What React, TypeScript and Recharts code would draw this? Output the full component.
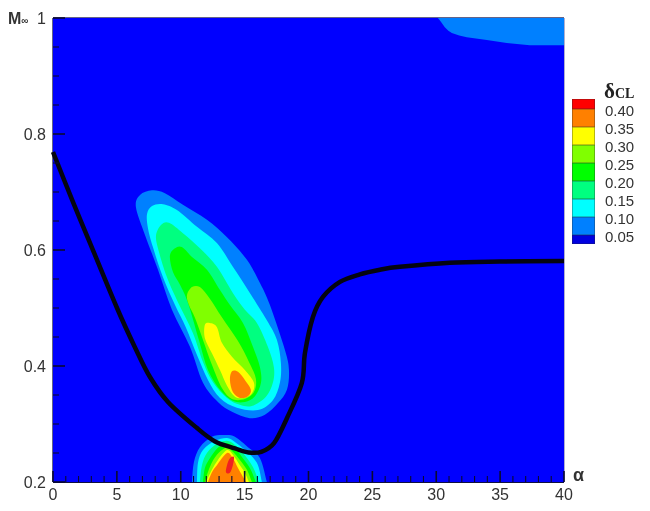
import React from 'react';
import { ComposedChart, Scatter, XAxis, YAxis } from 'recharts';

type P = [number, number];

const xTicks = [0,1,2,3,4,5,6,7,8,9,10,11,12,13,14,15,16,17,18,19,20,21,22,23,24,25,26,27,28,29,30,31,32,33,34,35,36,37,38,39,40];
const xLabelled = [0,5,10,15,20,25,30,35,40];
const yTicks = [0.2,0.25,0.3,0.35,0.4,0.45,0.5,0.55,0.6,0.65,0.7,0.75,0.8,0.85,0.9,0.95,1];
const yLabelled = [0.2,0.4,0.6,0.8,1];

const legendLabels = ['0.40','0.35','0.30','0.25','0.20','0.15','0.10','0.05'];
const legendColors = ['#ff0000','#ff8000','#ffff00','#80ff00','#00ff00','#00ff80','#00ffff','#0080ff','#0000e0'];

const C05 = '#0000ff', C10 = '#0080ff', C15 = '#00ffff', C20 = '#00ff80', C25 = '#00ff00', C30 = '#80ff00', C35 = '#ffff00', C40 = '#ff8000', C45 = '#f02020';

const field: P[] = [[0,0.2],[40,0.2],[40,1],[0,1]];
const cornerTop10: P[] = [[30.13,1],[30.35,.994],[30.67,.984],[30.95,.978],[31.22,.974],[31.8,.970],[32.39,.967],[33.96,.962],[35.52,.957],[37.32,.953],[40,.953],[40,1]];

const upper10: P[] = [[6.49,.674],[6.81,.695],[7.75,.703],[8.76,.698],[10.17,.678],[12.05,.652],[13.62,.622],[15.18,.583],[16.2,.543],[16.98,.505],[18.15,.428],[18.47,.393],[18.31,.359],[17.61,.336],[16.59,.316],[15.41,.31],[14.01,.321],[12.91,.338],[11.74,.371],[10.72,.433],[9.31,.497],[8.22,.566],[7.2,.626]];
const upper15: P[] = [[7.36,.662],[7.75,.676],[8.61,.679],[9.7,.669],[11.27,.64],[12.83,.612],[14.08,.571],[15.41,.526],[16.74,.479],[17.53,.445],[17.84,.405],[17.76,.371],[17.21,.341],[16.04,.324],[14.4,.328],[13.07,.345],[12.13,.376],[11.27,.419],[10.41,.466],[9.55,.505],[8.61,.553],[7.82,.605],[7.43,.638]];
const upper20: P[] = [[8.06,.624],[8.45,.643],[9.08,.647],[10.17,.629],[11.5,.603],[12.83,.571],[14.08,.526],[15.02,.497],[15.96,.474],[16.82,.433],[17.29,.398],[17.21,.371],[16.67,.347],[15.57,.331],[14.63,.333],[13.62,.345],[12.52,.372],[11.74,.407],[10.95,.457],[9.78,.51],[8.92,.553],[8.29,.597]];
const upper25: P[] = [[9.15,.59],[9.55,.603],[10.09,.605],[10.88,.588],[12.05,.566],[13.07,.531],[13.85,.505],[14.87,.474],[15.65,.433],[16.2,.398],[16.28,.371],[15.81,.348],[15.02,.338],[14.08,.34],[13.07,.359],[12.13,.393],[11.42,.445],[10.56,.509],[9.94,.54],[9.39,.562]];
const upper30: P[] = [[10.49,.522],[10.88,.536],[11.5,.536],[12.28,.516],[13.22,.484],[14.48,.443],[15.34,.407],[15.88,.378],[15.73,.355],[15.02,.343],[14.01,.343],[13.22,.362],[12.44,.402],[11.74,.445],[11.11,.483],[10.64,.505]];
const upper35: P[] = [[11.89,.471],[12.28,.474],[12.83,.467],[13.22,.44],[14.01,.416],[15.02,.393],[15.73,.371],[15.57,.353],[14.95,.345],[14.24,.347],[13.62,.366],[13.07,.393],[12.44,.422],[11.89,.448]];
const upper40: P[] = [[14.01,.391],[14.48,.39],[15.02,.376],[15.49,.359],[15.26,.348],[14.63,.345],[14.08,.355],[13.85,.376]];

const lower10: P[] = [[10.88,.2],[11.03,.234],[11.5,.26],[12.44,.278],[13.46,.281],[14.24,.278],[15.26,.26],[16.2,.241],[16.74,.2]];
const lower15: P[] = [[11.27,.2],[11.35,.233],[11.74,.255],[12.68,.271],[13.62,.276],[14.24,.269],[15.02,.255],[15.96,.233],[16.35,.2]];
const lower20: P[] = [[11.5,.2],[11.66,.229],[12.05,.25],[12.83,.266],[13.62,.271],[14.24,.264],[14.87,.25],[15.65,.226],[16.12,.2]];
const lower25: P[] = [[11.74,.2],[11.89,.224],[12.28,.241],[12.91,.259],[13.62,.267],[14.24,.259],[14.79,.243],[15.41,.224],[15.88,.2]];
const lower30: P[] = [[11.89,.2],[12.28,.226],[12.83,.247],[13.62,.26],[14.08,.252],[14.63,.238],[15.18,.221],[15.57,.2]];
const lower35: P[] = [[11.97,.2],[12.44,.221],[12.91,.238],[13.62,.255],[14.08,.247],[14.63,.229],[15.02,.216],[15.34,.2]];
const lower40: P[] = [[12.13,.2],[12.44,.217],[12.83,.229],[13.62,.25],[14.08,.241],[14.48,.224],[14.79,.212],[15.1,.2]];
const lower45: P[] = [[13.54,.217],[13.62,.229],[13.85,.241],[14.16,.243],[14.08,.229],[13.85,.216]];

const boundary: P[] = [[0,.769],[1.56,.683],[2.9,.612],[5.01,.5],[6.42,.432],[7.59,.381],[9,.338],[11.27,.293],[12.68,.27],[14.24,.258],[15.3,.251],[16.3,.252],[17.3,.267],[18.31,.31],[19.48,.371],[19.72,.422],[20.34,.484],[21.13,.519],[22.46,.545],[24.02,.558],[25.59,.566],[27.15,.571],[31.06,.578],[34.98,.58],[40,.581]];

type Mode = 'polygon' | 'loop' | 'arch' | 'open';
const regions: { name: string; color: string; pts: P[]; mode: Mode }[] = [
  { name: 'field', color: C05, pts: field, mode: 'polygon' },
  { name: 'corner10', color: C10, pts: cornerTop10, mode: 'polygon' },
  { name: 'u10', color: C10, pts: upper10, mode: 'loop' },
  { name: 'u15', color: C15, pts: upper15, mode: 'loop' },
  { name: 'u20', color: C20, pts: upper20, mode: 'loop' },
  { name: 'u25', color: C25, pts: upper25, mode: 'loop' },
  { name: 'u30', color: C30, pts: upper30, mode: 'loop' },
  { name: 'u35', color: C35, pts: upper35, mode: 'loop' },
  { name: 'u40', color: C40, pts: upper40, mode: 'loop' },
  { name: 'l10', color: C10, pts: lower10, mode: 'arch' },
  { name: 'l15', color: C15, pts: lower15, mode: 'arch' },
  { name: 'l20', color: C20, pts: lower20, mode: 'arch' },
  { name: 'l25', color: C25, pts: lower25, mode: 'arch' },
  { name: 'l30', color: C30, pts: lower30, mode: 'arch' },
  { name: 'l35', color: C35, pts: lower35, mode: 'arch' },
  { name: 'l40', color: C40, pts: lower40, mode: 'arch' },
  { name: 'l45', color: C45, pts: lower45, mode: 'loop' },
];

const toRows = (pts: P[]) => pts.map(([a, m]) => ({ a, m }));

function spline(points: { x: number; y: number }[], mode: Mode): string {
  const n = points.length;
  if (!n) return '';
  if (mode === 'polygon') return 'M' + points.map((p) => `${p.x},${p.y}`).join('L') + 'Z';
  const at = (i: number) => (mode === 'loop' ? points[(i + n) % n] : points[Math.max(0, Math.min(n - 1, i))]);
  const last = mode === 'loop' ? n : n - 1;
  let d = `M${points[0].x},${points[0].y}`;
  for (let i = 0; i < last; i++) {
    const p0 = at(i - 1), p1 = at(i), p2 = at(i + 1), p3 = at(i + 2);
    d += `C${p1.x + (p2.x - p0.x) / 6},${p1.y + (p2.y - p0.y) / 6} ${p2.x - (p3.x - p1.x) / 6},${p2.y - (p3.y - p1.y) / 6} ${p2.x},${p2.y}`;
  }
  return mode === 'open' ? d : d + 'Z';
}

const FONT = '"Liberation Sans", Arial, sans-serif';
const INK = '#333';
const TICK = '#0a0a30';

function XTick(props: any) {
  const { x, payload } = props;
  const major = xLabelled.includes(payload.value);
  return (
    <g>
      <line x1={x} x2={x} y1={482} y2={major ? 471 : 476} stroke={TICK} strokeWidth={major ? 1.6 : 1.1} />
      {major && (
        <text x={x} y={500} textAnchor="middle" fontFamily={FONT} fontSize={16} fill={INK}>{payload.value}</text>
      )}
      {payload.value === 40 && (
        <text x={x + 9} y={481} fontFamily={FONT} fontSize={18} fontWeight={700} fill={INK}>α</text>
      )}
    </g>
  );
}

function YTick(props: any) {
  const { y, payload } = props;
  const major = yLabelled.some((v) => Math.abs(v - payload.value) < 1e-6);
  return (
    <g>
      <line x1={53} x2={major ? 65 : 59} y1={y} y2={y} stroke={TICK} strokeWidth={major ? 1.6 : 1.1} />
      {major && (
        <text x={46} y={y + 6} textAnchor="end" fontFamily={FONT} fontSize={16} fill={INK}>{payload.value}</text>
      )}
      {payload.value === 1 && (
        <text x={8} y={y + 6} fontFamily={FONT} fontSize={16} fontWeight={700} fill={INK}>
          M<tspan fontSize={10} dy={0}>∞</tspan>
        </text>
      )}
    </g>
  );
}

export default function App() {
  return (
    <div style={{ position: 'fixed', left: 0, top: 0, width: 650, height: 511, background: '#fff', filter: 'blur(0.4px)' }}>
      <ComposedChart width={650} height={511} margin={{ top: 17, right: 85, bottom: 28, left: 52 }}>
        <XAxis xAxisId="top" orientation="top" type="number" domain={[0, 40]} height={1} tick={false} tickLine={false} axisLine={{ stroke: '#303060', strokeWidth: 1.5 }} />
        <YAxis yAxisId="right" orientation="right" type="number" domain={[0.2, 1]} width={1} tick={false} tickLine={false} axisLine={{ stroke: '#6060a0', strokeWidth: 1 }} />
        {regions.map((r) => (
          <Scatter
            key={r.name}
            name={r.name}
            data={toRows(r.pts)}
            fill={r.color}
            isAnimationActive={false}
            shape={() => null}
            line={(lp: any) => <path d={spline(lp.points, r.mode)} fill={r.color} stroke="none" />}
          />
        ))}
        <Scatter
          name="boundary"
          data={toRows(boundary)}
          fill="#050510"
          isAnimationActive={false}
          shape={() => null}
          line={(lp: any) => <path d={spline(lp.points, 'open')} fill="none" stroke="#050510" strokeWidth={4.5} />}
        />
        <XAxis
          type="number"
          dataKey="a"
          domain={[0, 40]}
          ticks={xTicks}
          interval={0}
          height={1}
          tickLine={false}
          axisLine={{ stroke: '#101040', strokeWidth: 2 }}
          tick={<XTick />}
        />
        <YAxis
          type="number"
          dataKey="m"
          domain={[0.2, 1]}
          ticks={yTicks}
          interval={0}
          width={1}
          tickLine={false}
          axisLine={{ stroke: '#303060', strokeWidth: 1.5 }}
          tick={<YTick />}
        />
      </ComposedChart>

      <div style={{ position: 'absolute', left: 604, top: 81, fontFamily: '"Liberation Serif", serif', fontWeight: 700, color: '#222', lineHeight: '20px', whiteSpace: 'nowrap' }}>
        <span style={{ fontSize: 21 }}>δ</span>
        <span style={{ fontSize: 14 }}>CL</span>
      </div>
      <div style={{ position: 'absolute', left: 572, top: 99, width: 23 }}>
        {legendColors.map((c, i) => (
          <div key={c} style={{ background: c, height: i === 0 ? 10 : i === legendColors.length - 1 ? 9 : 18, boxShadow: 'inset 0 0 0 0.6px rgba(40,40,40,0.55)', boxSizing: 'border-box' }} />
        ))}
      </div>
      <div style={{ position: 'absolute', left: 605, top: 102, fontFamily: FONT, fontSize: 15, color: INK }}>
        {legendLabels.map((l) => (
          <div key={l} style={{ height: 18, lineHeight: '18px' }}>{l}</div>
        ))}
      </div>
    </div>
  );
}
